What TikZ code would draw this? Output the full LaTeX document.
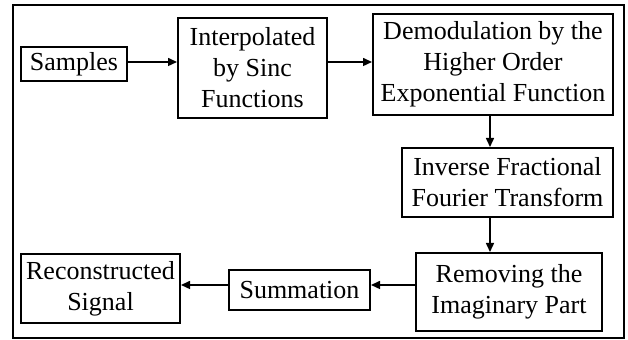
\documentclass[tikz,border=0pt]{standalone}
\usepackage{fontspec}
\setmainfont{Liberation Serif}
\usetikzlibrary{arrows.meta}

\begin{document}
\begin{tikzpicture}[x=0.5pt,y=-0.5pt,
  block/.style={draw, line width=1pt, inner sep=0pt, align=center,
    font=\fontsize{13}{15.5}\selectfont},
  arr/.style={line width=0.75pt, -{Triangle[length=4.5pt,width=4pt]}}]
  \useasboundingbox (0,0) rectangle (628,340);
  % outer frame
  \draw[line width=1pt] (13,5) rectangle (624,338.5);

  % processing blocks
  \node[block, minimum width=53pt, minimum height=17pt] (samp) at (74,64) {Samples};
  \node[block, minimum width=74.5pt, minimum height=50pt] (interp) at (252.5,68)
    {Interpolated\\by Sinc\\Functions};
  \node[block, minimum width=120pt, minimum height=50.5pt] (demod) at (493,64.5)
    {Demodulation by the\\Higher Order\\Exponential Function};
  \node[block, minimum width=105.5pt, minimum height=34.5pt] (inv) at (507.5,182.5)
    {Inverse Fractional\\Fourier Transform};
  \node[block, minimum width=93pt, minimum height=39pt] (rem) at (509,292)
    {Removing the\\Imaginary Part};
  \node[block, minimum width=70.5pt, minimum height=20pt] (sum) at (299.5,290) {Summation};
  \node[block, minimum width=79.5pt, minimum height=34.5pt] (rec) at (100.5,288.5)
    {Reconstructed\\Signal};

  % signal flow
  \draw[arr] ([yshift=1pt]samp.east) -- ([yshift=1pt]samp.east -| interp.west);
  \draw[arr] ([yshift=3pt]interp.east) -- ([yshift=3pt]interp.east -| demod.west);
  \draw[arr] ([xshift=-1.5pt]demod.south) -- ([xshift=-1.5pt]demod.south |- inv.north);
  \draw[arr] ([xshift=-8.75pt]inv.south) -- ([xshift=-8.75pt]inv.south |- rem.north);
  \draw[arr] ([yshift=3.5pt]rem.west) -- ([yshift=3.5pt]rem.west -| sum.east);
  \draw[arr] ([yshift=2.5pt]sum.west) -- ([yshift=2.5pt]sum.west -| rec.east);
\end{tikzpicture}
\end{document}
